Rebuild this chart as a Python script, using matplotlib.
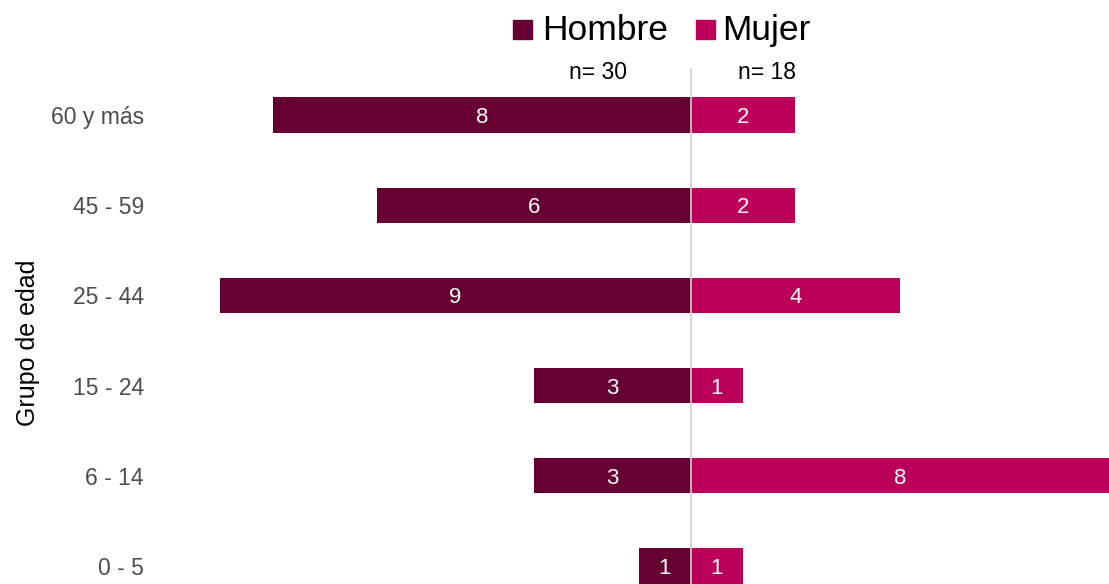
import matplotlib
matplotlib.use("Agg")
import matplotlib.pyplot as plt
from matplotlib.patches import Rectangle

plt.rcParams['font.family'] = ['Liberation Sans', 'DejaVu Sans']

groups = ["0 - 5", "6 - 14", "15 - 24", "25 - 44", "45 - 59", "60 y más"]
hombre = [1, 3, 3, 9, 6, 8]
mujer = [1, 8, 1, 4, 2, 2]
n_hombre = 30
n_mujer = 18
col_h = "#660033"
col_m = "#BB0059"

W, H = 1109, 584
fig = plt.figure(figsize=(W / 100, H / 100), dpi=100)
ax = fig.add_axes([155 / W, 0, (W - 155) / W, (584 - 68) / H])

y = list(range(len(groups)))
ax.barh(y, [-v for v in hombre], height=0.39, color=col_h)
ax.barh(y, mujer, height=0.39, color=col_m)
for i in y:
    ax.text(-hombre[i] / 2, i, str(hombre[i]), color="white", ha="center", va="center_baseline", fontsize=16)
    ax.text(mujer[i] / 2, i, str(mujer[i]), color="white", ha="center", va="center_baseline", fontsize=16)
ax.axvline(0, color="#d0d0d0", lw=1.2, zorder=5)

ax.set_xlim(-10.25, 8)
ax.set_ylim(-0.2, 5.52)
ax.set_yticks(y)
ax.set_yticklabels(groups, fontsize=16.5, color="#4d4d4d")
ax.tick_params(axis="y", length=0, pad=8)
ax.set_xticks([])
for s in ax.spines.values():
    s.set_visible(False)

fig.text(28 / W, 1 - 343 / H, "Grupo de edad", rotation=90, ha="center", va="center", fontsize=18)

# legend
fig.patches.append(Rectangle((513 / W, 1 - 39 / H), 19 / W, 19 / H, transform=fig.transFigure, color=col_h))
fig.text(542 / W, 1 - 27 / H, "Hombre", fontsize=25.5, ha="left", va="center_baseline")
fig.patches.append(Rectangle((696 / W, 1 - 39 / H), 19 / W, 19 / H, transform=fig.transFigure, color=col_m))
fig.text(722 / W, 1 - 27 / H, "Mujer", fontsize=25.5, ha="left", va="center_baseline")
fig.text(598 / W, 1 - 70 / H, f"n= {n_hombre}", fontsize=16.5, ha="center", va="center_baseline")
fig.text(767 / W, 1 - 70 / H, f"n= {n_mujer}", fontsize=16.5, ha="center", va="center_baseline")

fig.savefig("out.png", dpi=100)
